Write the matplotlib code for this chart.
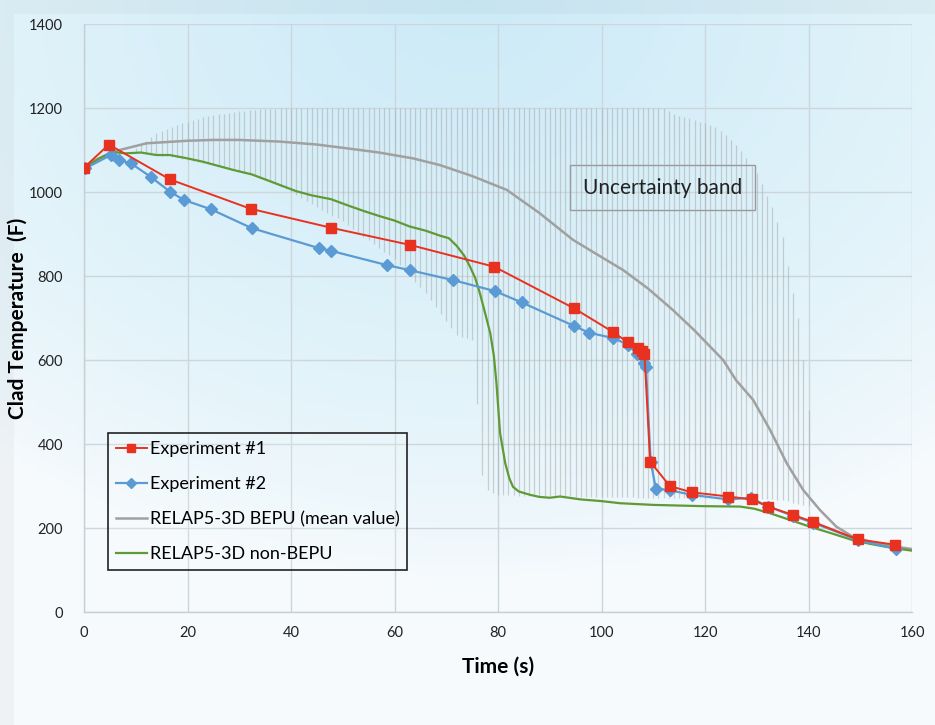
import numpy as np
import matplotlib
matplotlib.use("Agg")
import matplotlib.pyplot as plt

plt.rcParams['font.family'] = ['Lato', 'DejaVu Sans']

# ---------------- data ----------------
exp1_t = [0, 4.8, 16.6, 32.2, 47.7, 63.0, 79.3, 94.7, 102.3, 105.1, 107.0, 107.8, 108.3,
          109.4, 113.2, 117.4, 124.5, 129.0, 132.2, 137.0, 140.8, 149.5, 156.8]
exp1_T = [1058, 1113, 1030, 960, 915, 874, 822, 723, 666, 642, 629, 622, 615,
          358, 300, 285, 275, 268, 251, 231, 215, 173, 160]

exp2_t = [0.2, 5.2, 6.8, 9.1, 12.9, 16.6, 19.3, 24.5, 32.4, 45.5, 47.7, 58.5, 62.9, 71.4,
          79.4, 84.6, 94.7, 97.6, 102.3, 105.2, 106.8, 108.2, 108.6, 109.5, 110.5, 113.2,
          117.4, 124.5, 128.8, 132.2, 137.0, 140.8, 149.6, 157.0]
exp2_T = [1056, 1088, 1076, 1068, 1036, 1001, 981, 959, 914, 866, 860, 826, 814, 790,
          764, 737, 681, 665, 652, 636, 614, 592, 583, 358, 294, 290,
          279, 268, 272, 251, 229, 213, 171, 150]

bepu_t = [0, 2, 5.6, 12.1, 20, 25, 30, 37.9, 45, 50.8, 57, 63.6, 68.8, 75, 81.7, 88, 94.5,
          100, 104.2, 109, 113.8, 118, 123.5, 126, 129.3, 132.6, 135.8, 139, 142.2, 145.4,
          148.6, 152, 156, 160]
bepu_T = [1057, 1075, 1096, 1116, 1122, 1124, 1124, 1120, 1113, 1104, 1094, 1080, 1064,
          1038, 1005, 950, 886, 845, 814, 770, 719, 670, 600, 552, 505, 433, 354, 290,
          243, 203, 179, 167, 157, 150]

nonbepu_t = [0, 3, 5.5, 8, 11, 14, 16.6, 20, 23, 26, 29, 32.4, 35, 38, 41, 44, 47.7, 51,
             54, 57, 60, 62.9, 66, 68.8, 70.5, 72, 73.5, 74.6, 75.6, 76.5, 77.5, 78.5, 79.2,
             79.7, 80.4, 81.4, 82.2, 82.9, 84, 86.2, 88, 90, 92, 96, 100, 103.6, 110, 119.6,
             126.8, 129.5, 132.6, 136, 140.3, 144, 148.6, 152, 156, 160]
nonbepu_T = [1057, 1080, 1095, 1092, 1094, 1088, 1088, 1080, 1072, 1062, 1052, 1042, 1030,
             1016, 1002, 992, 983, 968, 955, 943, 932, 918, 908, 896, 890, 872, 848, 822,
             795, 759, 712, 664, 610, 545, 426, 354, 318, 298, 287, 279, 274, 272, 275, 268,
             264, 259, 255, 252, 251, 246, 235, 221, 203, 189, 171, 162, 153, 146]

# uncertainty band envelope (top / bottom) versus time
band_t = [10, 14, 18, 22, 26, 30, 35, 40, 50, 60, 66, 72, 75.5, 76.5, 78, 80, 90, 100,
          110, 112, 114, 118, 122, 125, 127, 130, 133, 135, 136.5, 138, 139, 140]
band_top = [1105, 1140, 1160, 1175, 1185, 1192, 1198, 1200, 1200, 1200, 1200, 1200, 1200,
            1200, 1200, 1200, 1200, 1200, 1200, 1200, 1185, 1172, 1155, 1125, 1098, 1045,
            965, 893, 790, 700, 600, 480]
band_bot = [1095, 1088, 1082, 1072, 1062, 1050, 1030, 1000, 930, 840, 760, 660, 645, 345,
            290, 278, 276, 274, 272, 272, 272, 272, 272, 271, 270, 270, 268, 266, 262, 258,
            255, 252]

x_ticks = [0, 20, 40, 60, 80, 100, 120, 140, 160]
y_ticks = [0, 200, 400, 600, 800, 1000, 1200, 1400]

# ---------------- figure ----------------
fig = plt.figure(figsize=(9.35, 7.25), dpi=100)

# background gradient
bg = fig.add_axes([0, 0, 1, 1], zorder=-10)
bg.set_axis_off()
ny, nx = 200, 200
yy, xx = np.mgrid[0:1:ny * 1j, 0:1:nx * 1j]
img = np.zeros((ny, nx, 3))
d = np.sqrt(((xx - 0.5) / 0.8) ** 2 + (yy / 0.8) ** 2)
w = np.clip(1 - d, 0, 1) ** 0.7
top_col = np.array([0.80, 0.92, 0.97])
low_col = np.array([0.965, 0.982, 0.99])
for c in range(3):
    img[..., c] = low_col[c] * (1 - w) + top_col[c] * w
frame = (xx < 10 / 935) | (yy < 12 / 725)
img[frame] = img[frame] * 0.97
bg.imshow(img, extent=[0, 1, 0, 1], aspect='auto', origin='upper')
bg.set_xlim(0, 1)
bg.set_ylim(0, 1)

ax = fig.add_axes([84 / 935, 1 - 612 / 725, (912 - 84) / 935, (612 - 24) / 725])
ax.set_facecolor('none')

# uncertainty band: vertical grey lines, one per second
bt = np.arange(10, 140.5, 1.0)
top_i = np.interp(bt, band_t, band_top)
bot_i = np.interp(bt, band_t, band_bot)
ax.vlines(bt, bot_i, top_i, colors='#a8adb0', linewidth=0.9, alpha=0.55, zorder=1)

ax.plot(bepu_t, bepu_T, color='#a0a0a0', lw=1.8, zorder=3,
        label='RELAP5-3D BEPU (mean value)')
ax.plot(nonbepu_t, nonbepu_T, color='#5f9a35', lw=1.6, zorder=4,
        label='RELAP5-3D non-BEPU')
ax.plot(exp2_t, exp2_T, color='#5b9bd5', lw=1.6, marker='D', ms=6.5,
        mec='#5b9bd5', mfc='#5b9bd5', zorder=5, label='Experiment #2')
ax.plot(exp1_t, exp1_T, color='#e8321f', lw=1.4, marker='s', ms=6.5,
        mec='#e8321f', mfc='#e8321f', zorder=6, label='Experiment #1')

ax.set_xlim(0, 160)
ax.set_ylim(0, 1400)
ax.set_xticks(x_ticks)
ax.set_yticks(y_ticks)
ax.tick_params(axis='both', length=0, labelsize=10.5, colors='#222222')
ax.tick_params(axis='x', pad=10)
ax.tick_params(axis='y', pad=15)
ax.grid(True, color='#cdd6da', lw=1.0, zorder=0)
ax.set_axisbelow(True)
for s in ['top', 'right']:
    ax.spines[s].set_visible(False)
for s in ['left', 'bottom']:
    ax.spines[s].set_color('#c8cfd2')
    ax.spines[s].set_linewidth(1.0)

ax.set_xlabel('Time (s)', fontsize=15, fontweight='bold', labelpad=12)
ax.set_ylabel('Clad Temperature  (F)', fontsize=15, fontweight='bold')
ax.yaxis.set_label_coords((28 - 84) / 828, 0.5)

# legend in requested order
h, l = ax.get_legend_handles_labels()
order = [l.index('Experiment #1'), l.index('Experiment #2'),
         l.index('RELAP5-3D BEPU (mean value)'), l.index('RELAP5-3D non-BEPU')]
leg = ax.legend([h[i] for i in order], [l[i] for i in order],
                loc='upper left', bbox_to_anchor=((108 - 84) / 828, (612 - 433) / 588),
                fontsize=13, frameon=True, fancybox=False, edgecolor='#222222',
                facecolor=(1, 1, 1, 0.15), handlelength=1.7,
                handletextpad=0.15, labelspacing=1.05, borderpad=0.45,
                borderaxespad=0)
leg.get_frame().set_alpha(None)
leg.get_frame().set_facecolor((1, 1, 1, 0.15))
leg.get_frame().set_edgecolor('#222222')
leg.get_frame().set_linewidth(1.2)
for lh in leg.get_lines():
    lh.set_markersize(5.5)

ax.text(111.8, 1010, 'Uncertainty band', fontsize=15, ha='center', va='center',
        color='#222222', zorder=7,
        bbox=dict(boxstyle='square,pad=0.6', fc='none', ec='#9a9a9a', lw=1.0))

fig.savefig('out.png', dpi=100)
